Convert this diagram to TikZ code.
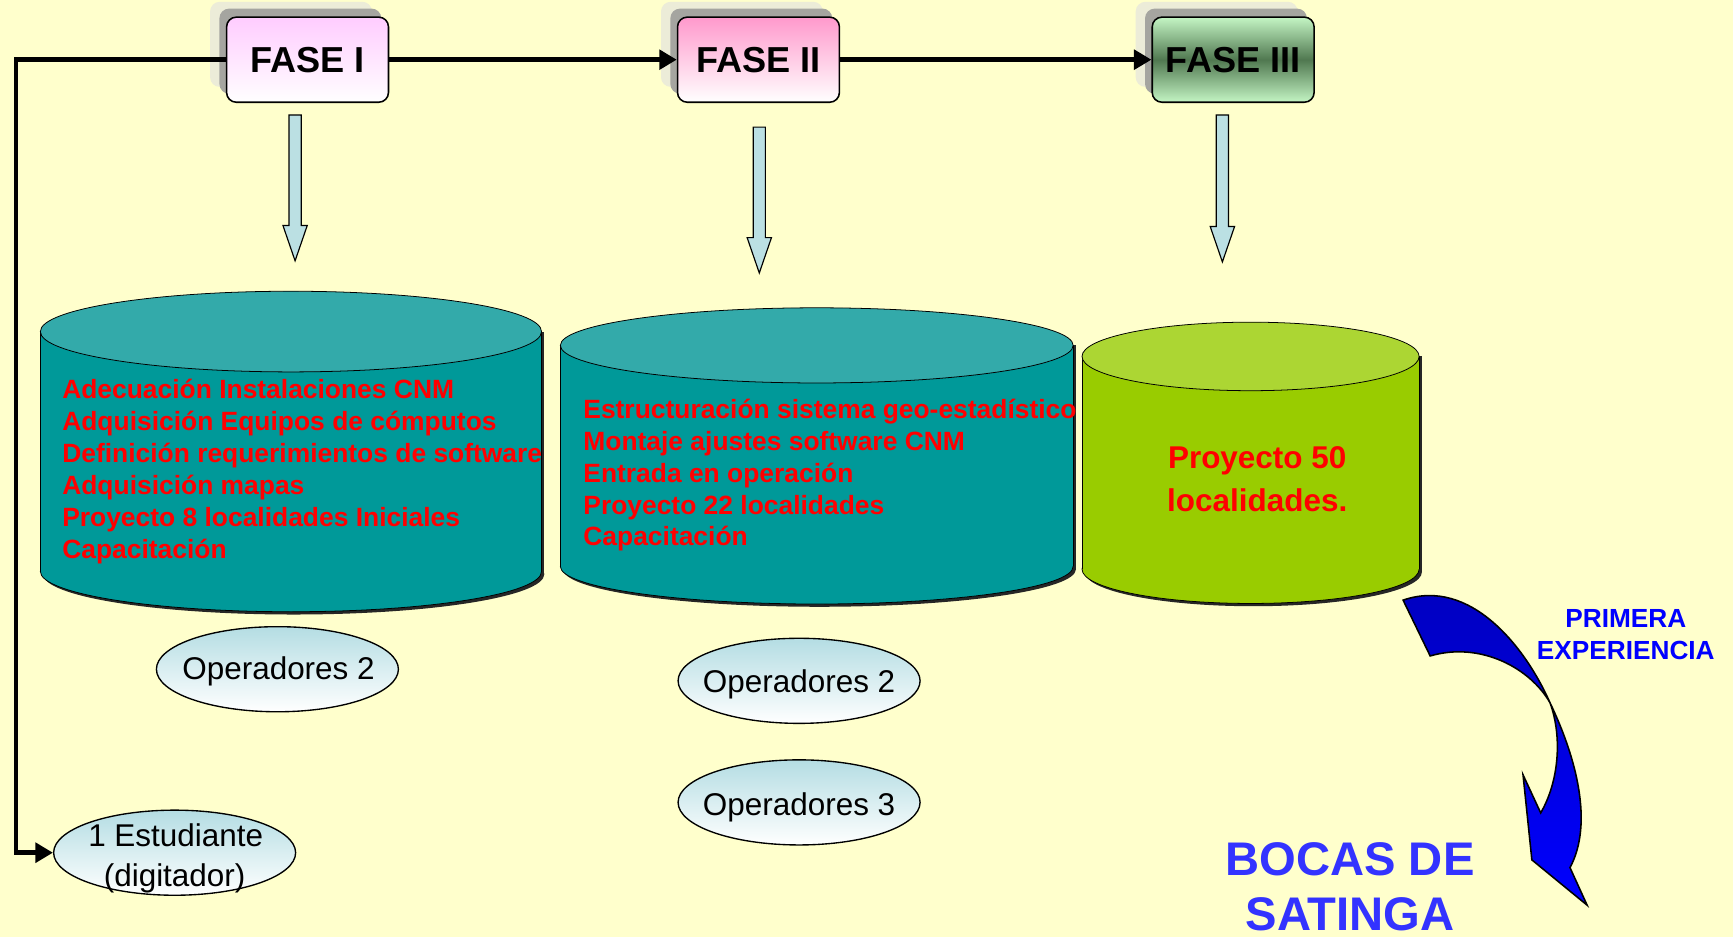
\documentclass[tikz,border=0pt]{standalone}
\usepackage{fontspec}
\setmainfont{Liberation Sans}
\usetikzlibrary{shapes.geometric,arrows.meta,calc,shadows}
\definecolor{bgyellow}{RGB}{255,255,204}
\definecolor{pinkA}{RGB}{255,204,255}
\definecolor{pinkB}{RGB}{255,153,204}
\definecolor{greenL}{RGB}{196,245,196}
\definecolor{greenD}{RGB}{80,120,80}
\definecolor{tealbody}{RGB}{0,153,153}
\definecolor{tealtop}{RGB}{51,170,170}
\definecolor{limebody}{RGB}{153,204,0}
\definecolor{limetop}{RGB}{172,214,51}
\definecolor{arrowlb}{RGB}{187,224,227}
\definecolor{ellipseblue}{RGB}{180,221,227}
\definecolor{shadowlight}{RGB}{236,236,216}
\definecolor{shadowdark}{RGB}{165,165,160}
\definecolor{redtext}{RGB}{255,0,0}
\definecolor{bluetext}{RGB}{0,0,255}
\definecolor{bocasblue}{RGB}{51,51,255}
\definecolor{arrowdark}{RGB}{0,0,190}
\definecolor{arrowblue}{RGB}{0,0,255}
\newcommand\mycyl[7]{%
  \fill[black!85] (#1-#2+2.5,#3) rectangle (#1+#2+2.5,#4+2.5);
  \fill[black!85] (#1+2.5,#4+2.5) ellipse [x radius=#2, y radius=#5];
  \draw[fill=#6] (#1,#4) ellipse [x radius=#2, y radius=#5];
  \fill[#6] (#1-#2,#3) rectangle (#1+#2,#4);
  \draw (#1-#2,#3) -- (#1-#2,#4) (#1+#2,#3) -- (#1+#2,#4);
  \draw[fill=#7] (#1,#3) ellipse [x radius=#2, y radius=#5];
}
\newcommand\blockdown[2]{%
  \draw[blockarrow] ($(#1)+(-5.5,0)$) -- ($(#2)+(-5.5,-32)$) -- ($(#2)+(-11,-32)$) -- (#2)
    -- ($(#2)+(11,-32)$) -- ($(#2)+(5.5,-32)$) -- ($(#1)+(5.5,0)$) -- cycle;
}
\begin{document}
\begin{tikzpicture}[x=0.02cm,y=-0.02cm,
  fasebox/.style={draw, line width=0.8pt, rounded corners=5pt, minimum width=2.93cm,
    minimum height=1.54cm, inner sep=0pt, font=\fontsize{18.6}{20}\selectfont\bfseries,
    general shadow={shadow xshift=-8.5pt, shadow yshift=7.9pt, fill=shadowlight},
    general shadow={shadow xshift=-3.7pt, shadow yshift=4.4pt, fill=shadowdark}},
  mainline/.style={line width=2.3pt, line join=miter},
  tipa/.style={-{Triangle[length=9pt,width=10pt]}},
  blockarrow/.style={draw, line width=0.6pt, fill=arrowlb},
  opel/.style={ellipse, draw, line width=0.7pt, minimum width=4.38cm, minimum height=1.54cm,
    inner sep=0pt, top color=ellipseblue, bottom color=white},
  optxt/.style={inner sep=0pt, font=\fontsize{16.2}{19}\selectfont},
  redtxt/.style={inner sep=0pt, text=redtext, font=\fontsize{13.6}{16}\selectfont\bfseries},
  bigred/.style={inner sep=0pt, text=redtext, font=\fontsize{16.2}{19}\selectfont\bfseries},
  bluelbl/.style={inner sep=0pt, text=bluetext, font=\fontsize{13.5}{16}\selectfont\bfseries},
  bocas/.style={inner sep=0pt, text=bocasblue, font=\fontsize{24.3}{28}\selectfont\bfseries}
]
\useasboundingbox (0,0) rectangle (1568,848);
\fill[bgyellow] (0,0) rectangle (1568,848);

% phase boxes
\node[fasebox, top color=pinkA, bottom color=white] (f1) at (278.25,54) {FASE I};
\node[fasebox, top color=pinkB, bottom color=white] (f2) at (686.25,54) {FASE II};
\node[fasebox, top color=greenL, bottom color=greenL, middle color=greenD] (f3) at (1115.75,54) {FASE III};

% cylinders
\mycyl{263.25}{226.75}{300}{517}{36.5}{tealbody}{tealtop}
\mycyl{739}{232}{312.5}{512.5}{34}{tealbody}{tealtop}
\mycyl{1131.5}{152.5}{322.5}{515}{31}{limebody}{limetop}

% block arrows
\coordinate (a1s) at (267,104);  \coordinate (a1t) at (267,236);
\coordinate (a2s) at (687,115);  \coordinate (a2t) at (687,247);
\coordinate (a3s) at (1106,104); \coordinate (a3t) at (1106,237);
\blockdown{a1s}{a1t}
\blockdown{a2s}{a2t}
\blockdown{a3s}{a3t}

% texts in cylinders
\foreach \t [count=\i] in {Adecuación Instalaciones CNM, Adquisición Equipos de cómputos,
  Definición requerimientos de software, Adquisición mapas, Proyecto 8 localidades Iniciales, Capacitación}
  \node[redtxt, anchor=base west] (c1l\i) at (56,{361+28.8*(\i-1)}) {\t};
\foreach \t [count=\i] in {Estructuración sistema geo-estadístico, Montaje ajustes software CNM,
  Entrada en operación, Proyecto 22 localidades, Capacitación}
  \node[redtxt, anchor=base west] (c2l\i) at (527.5,{379+28.7*(\i-1)}) {\t};
\node[bigred, anchor=base] (c3l1) at (1137.5,423.5) {Proyecto 50};
\node[bigred, anchor=base] (c3l2) at (1137.5,463) {localidades.};

% ellipses
\node[opel] (o1) at (251,605.5) {};
\node[optxt, anchor=base] (o1t) at (252,615) {Operadores 2};
\node[opel] (o2) at (723,616) {};
\node[optxt, anchor=base] (o2t) at (723,627) {Operadores 2};
\node[opel] (o3) at (723,726) {};
\node[optxt, anchor=base] (o3t) at (723,737.5) {Operadores 3};
\node[opel] (est) at (158,771.5) {};
\node[optxt, anchor=base] (est1) at (159,766) {1 Estudiante};
\node[optxt, anchor=base] (est2) at (158,802.5) {(digitador)};

% main connectors
\coordinate (lc) at (14.5,771.5);
\draw[mainline, tipa] (f1.east) -- (f2.west);
\draw[mainline, tipa] (f2.east) -- (f3.west);
\draw[mainline, tipa] (f1.west) -| (lc) -- (est.west);

% curved blue arrow
\draw[line width=0.8pt, top color=arrowdark, bottom color=arrowblue]
  (1269.5,543) .. controls (1330,522) and (1380,585) .. (1402.5,636)
  .. controls (1426,685) and (1442,745) .. (1420.5,785)
  -- (1436,819) -- (1386,778) -- (1378,701) -- (1394,735.5)
  .. controls (1410,708) and (1414,668) .. (1402.5,636)
  .. controls (1385,605) and (1340,580) .. (1294,593.5) -- cycle;

\node[bluelbl, anchor=base] (pe1) at (1471,568) {PRIMERA};
\node[bluelbl, anchor=base] (pe2) at (1471,596.5) {EXPERIENCIA};
\node[bocas, anchor=base] (bs1) at (1221.5,792) {BOCAS DE};
\node[bocas, anchor=base] (bs2) at (1221.5,842) {SATINGA};
\end{tikzpicture}
\end{document}
